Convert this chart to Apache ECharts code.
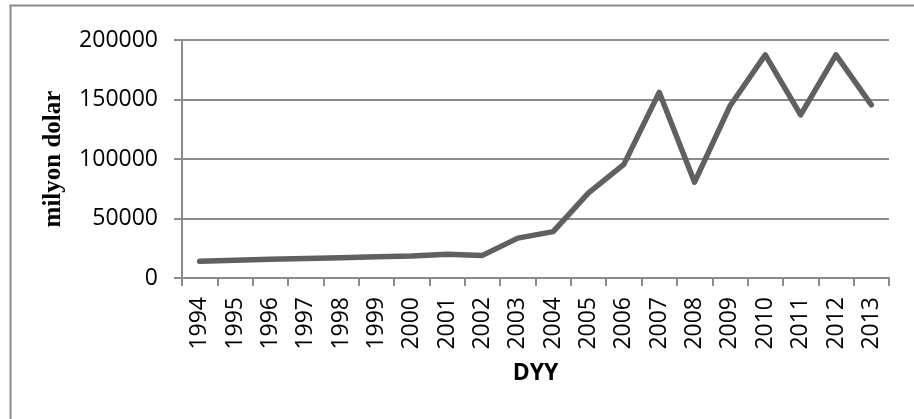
<!DOCTYPE html>
<html>
<head>
<meta charset="utf-8">
<script src="https://cdn.jsdelivr.net/npm/echarts@6/dist/echarts.min.js"></script>
<style>
  html, body { margin: 0; padding: 0; background: #fff; }
  #chart { width: 914px; height: 419px; }
</style>
</head>
<body>
<div id="chart"></div>
<script>
// Yıllara göre doğrudan yabancı yatırım (milyon dolar)
const years = ['1994', '1995', '1996', '1997', '1998', '1999', '2000', '2001', '2002', '2003',
               '2004', '2005', '2006', '2007', '2008', '2009', '2010', '2011', '2012', '2013'];
const dyyValues = [14000, 15000, 15700, 16300, 17100, 17900, 18500, 20000, 19000, 33500,
                   39000, 71500, 95500, 156000, 80500, 144500, 187500, 137000, 187500, 145500];
const yTicks = { min: 0, max: 200000, step: 50000 };

const gray = '#8c8c8c';
const tickFont = { fontFamily: 'Open Sans', fontSize: 23, color: '#000' };

const chart = echarts.init(document.getElementById('chart'), null, { renderer: 'canvas' });
chart.setOption({
  animation: false,
  backgroundColor: '#fff',
  grid: { left: 182, right: 25, top: 40, bottom: 141, containLabel: false },
  graphic: [{
    type: 'rect',
    shape: { x: 10.5, y: 5.5, width: 1000, height: 1000 },
    style: { fill: 'none', stroke: gray, lineWidth: 2 },
    silent: true
  }],
  xAxis: {
    type: 'category',
    data: years,
    boundaryGap: true,
    name: 'DYY',
    nameLocation: 'middle',
    nameGap: 84,
    nameTextStyle: { fontFamily: 'Open Sans', fontWeight: 'bold', fontSize: 23, color: '#000' },
    axisLine: { lineStyle: { color: gray, width: 2 } },
    axisTick: { show: true, length: 8, lineStyle: { color: gray, width: 2 } },
    axisLabel: Object.assign({ rotate: 90, margin: 19, interval: 0 }, tickFont),
    splitLine: { show: false }
  },
  yAxis: {
    type: 'value',
    min: yTicks.min,
    max: yTicks.max,
    interval: yTicks.step,
    name: 'milyon dolar',
    nameLocation: 'middle',
    nameRotate: 90,
    nameGap: 116,
    nameTextStyle: { fontFamily: 'Liberation Serif', fontWeight: 'bold', fontSize: 25, color: '#000' },
    axisLine: { show: true, lineStyle: { color: gray, width: 2 } },
    axisTick: { show: true, length: 8, lineStyle: { color: gray, width: 2 } },
    axisLabel: Object.assign({ margin: 24, formatter: v => String(v) }, tickFont),
    splitLine: { show: true, lineStyle: { color: gray, width: 2 } }
  },
  series: [{
    type: 'line',
    data: dyyValues,
    symbol: 'none',
    lineStyle: { color: '#606060', width: 5.5, join: 'round', cap: 'round' },
    z: 5
  }]
});
</script>
</body>
</html>
